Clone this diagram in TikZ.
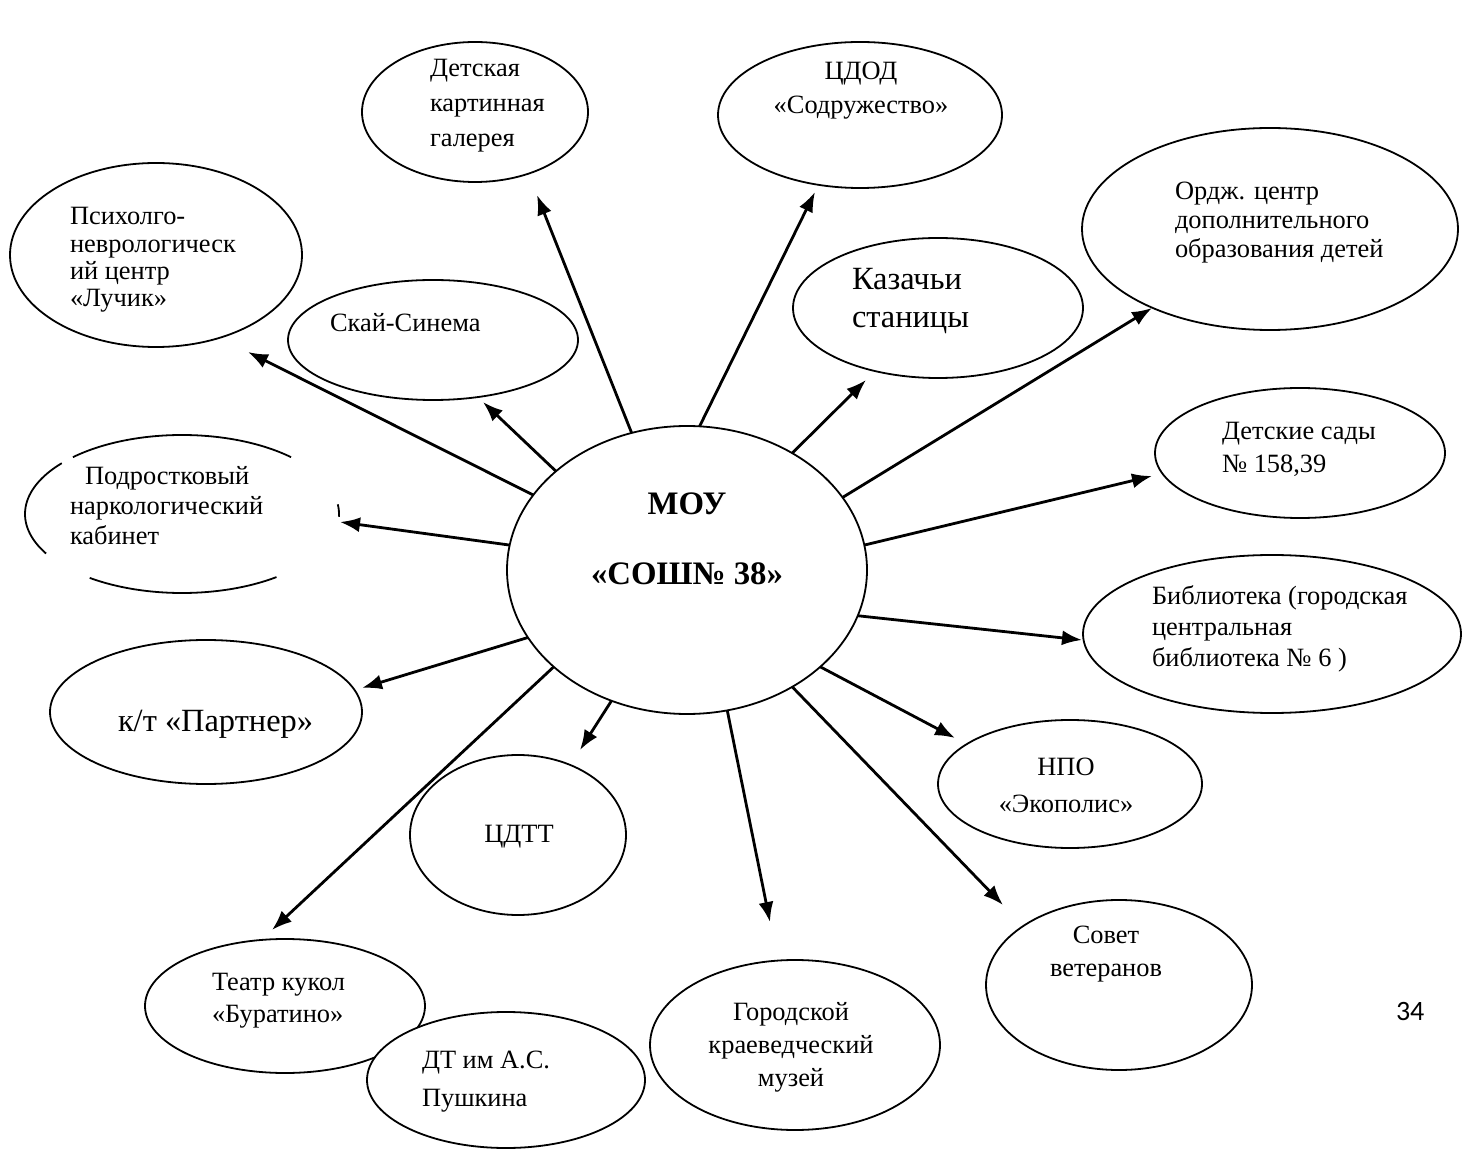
\documentclass[tikz,border=0pt]{standalone}
\usepackage{fontspec}
\setmainfont{Liberation Serif}
\newfontfamily\numfont{Carlito}
\usetikzlibrary{shapes.geometric,arrows.meta}
\newcommand\Ell[5]{\node[ell,minimum width=#4pt,minimum height=#5pt] (#1) at (#2,#3) {};}
\newcommand\Lt[2]{\vtop{\baselineskip=#1pt\relax#2}}
\newcommand\rowl[1]{\hbox{#1}}
\newcommand\rowc[1]{\hbox to 0pt{\hss#1\hss}}
\begin{document}
\begin{tikzpicture}[x=0.5pt,y=-0.5pt,
  ell/.style={ellipse, draw=black, line width=0.9pt, fill=white, inner sep=0pt, outer sep=0pt},
  eline/.style={draw=black, line width=0.9pt},
  arr/.style={line width=1.4pt, -{Latex[length=10pt,width=7.5pt]}},
  txt/.style={anchor=base west, inner sep=0pt, outer sep=0pt},
  fa/.style={font=\fontsize{13.2}{14}\selectfont},
  fb/.style={font=\fontsize{13.2}{15}\selectfont},
  fc/.style={font=\fontsize{16.2}{19}\selectfont},
  fm/.style={font=\fontsize{16.4}{19}\selectfont\bfseries}]
\useasboundingbox (0,0) rectangle (1462,1149);
\fill[white] (0,0) rectangle (1462,1149);

% ellipses
\Ell{gal}{475}{112}{113}{70}
\Ell{cdod}{860}{115}{142}{73}
\Ell{psych}{156}{255}{146}{92}
\Ell{sky}{433}{340}{145}{60}
\Ell{kaz}{938}{308}{145}{70}
\Ell{ordzh}{1270}{229}{188}{101}
\Ell{sady}{1300}{453}{145}{65}
\node[ellipse, minimum width=157pt, minimum height=79pt, inner sep=0pt] (podr) at (182,514) {};
\draw[eline] (podr.center) ++(46:78.5pt and 39.5pt) arc[start angle=46, end angle=134, x radius=78.5pt, y radius=39.5pt];
\draw[eline] (podr.center) ++(140:78.5pt and 39.5pt) arc[start angle=140, end angle=210, x radius=78.5pt, y radius=39.5pt];
\draw[eline] (podr.center) ++(234:78.5pt and 39.5pt) arc[start angle=234, end angle=307, x radius=78.5pt, y radius=39.5pt];
\draw[eline] (podr.center) ++(-2:78.5pt and 39.5pt) arc[start angle=-2, end angle=7, x radius=78.5pt, y radius=39.5pt];
\Ell{moy}{687}{570}{180}{144}
\Ell{bib}{1272}{634}{189}{79}
\Ell{part}{206}{712}{156}{72}
\Ell{npo}{1070}{784}{132}{64}
\Ell{cdtt}{518}{835}{108}{80}
\Ell{sovet}{1119}{985}{133}{85}
\Ell{teatr}{285}{1006}{140}{67}
\Ell{muz}{795}{1045}{145}{85}
\Ell{push}{506}{1080}{139}{68}

% arrow tips
\coordinate (tgal) at (537,195);
\coordinate (tcdod) at (815,192);
\coordinate (tpsych) at (248,352);
\coordinate (tsky) at (483,402);
\coordinate (tkaz) at (866,380);
\coordinate (tordzh) at (1152,308);
\coordinate (tsady) at (1152,476);
\coordinate (tpodr) at (340,522);
\coordinate (tbib) at (1082,640);
\coordinate (tpart) at (362,688);
\coordinate (tnpo) at (955,738);
\coordinate (tcdtt) at (580,750);
\coordinate (tteatr) at (272,930);
\coordinate (tmuz) at (770,922);
\coordinate (tsovet) at (1003,905);

\draw[arr] (moy.112.5) -- (tgal);
\draw[arr] (moy.85.7) -- (tcdod);
\draw[arr] (moy.154.5) -- (tpsych);
\draw[arr] (moy.143.5) -- (tsky);
\draw[arr] (moy.48.5) -- (tkaz);
\draw[arr] (moy.25.4) -- (tordzh);
\draw[arr] (moy.8) -- (tsady);
\draw[arr] (moy.172) -- (tpodr);
\draw[arr] (moy.-15.6) -- (tbib);
\draw[arr] (moy.203) -- (tpart);
\draw[arr] (moy.-36.4) -- (tnpo);
\draw[arr] (moy.240.6) -- (tcdtt);
\draw[arr] (moy.216.6) -- (tteatr);
\draw[arr] (moy.286.9) -- (tmuz);
\draw[arr] (moy.312.7) -- (tsovet);

% texts
\node[txt,fb] (galt) at (430,77) {\Lt{17.5}{\rowl{Детская}\rowl{картинная}\rowl{галерея}}};
\node[txt,fb] (cdodt) at (860,80) {\Lt{17}{\rowc{ЦДОД}\rowc{«Содружество»}}};
\node[txt,fa] (psycht) at (70,225) {\Lt{13.6}{\rowl{Психолго-}\rowl{неврологическ}\rowl{ий центр}\rowl{«Лучик»}}};
\node[txt,fb] (skyt) at (330,332) {Скай-Синема};
\node[txt,fc] (kazt) at (852,290) {\Lt{19}{\rowl{Казачьи}\rowl{станицы}}};
\node[txt,fa] (ordzht) at (1175,200) {\Lt{14.5}{\rowl{Ордж. центр}\rowl{дополнительного}\rowl{образования детей}}};
\node[txt,fb] (sadyt) at (1222,440) {\Lt{16.5}{\rowl{Детские сады}\rowl{№ 158,39}}};
\node[txt,fa] (podrt) at (70,485) {\Lt{15}{\rowl{\hspace{7.5pt}Подростковый}\rowl{наркологический}\rowl{кабинет}}};
\node[txt,fm] (moyt) at (686,515) {\Lt{35}{\rowc{МОУ}\rowc{«СОШ№ 38»}}};
\node[txt,fb] (bibt) at (1152,605) {\Lt{15.5}{\rowl{Библиотека (городская}\rowl{центральная}\rowl{библиотека № 6 )}}};
\node[txt,fc] (partt) at (118,732) {к/т «Партнер»};
\node[txt,fb] (npot) at (1065,775) {\Lt{18.5}{\rowc{НПО}\rowc{«Экополис»}}};
\node[txt,fb] (cdttt) at (518,842) {\Lt{17}{\rowc{ЦДТТ}}};
\node[txt,fb] (sovett) at (1105,943) {\Lt{16.5}{\rowc{Совет}\rowc{ветеранов}}};
\node[txt,fb] (teatrt) at (212,990) {\Lt{16}{\rowl{Театр кукол}\rowl{«Буратино»}}};
\node[txt,fb] (muzt) at (790,1020) {\Lt{16.5}{\rowc{Городской}\rowc{краеведческий}\rowc{музей}}};
\node[txt,fb] (pusht) at (422,1068) {\Lt{19}{\rowl{ДТ им А.С.}\rowl{Пушкина}}};
\node[txt,font=\numfont\fontsize{14}{16}\selectfont] (pg) at (1396,1020) {34};
\end{tikzpicture}
\end{document}
